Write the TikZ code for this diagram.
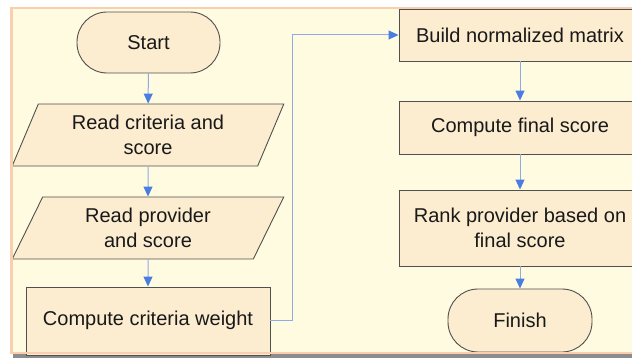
\documentclass[tikz,border=0pt]{standalone}
\usepackage{fontspec}
\setmainfont{Liberation Sans}
\usetikzlibrary{shapes.geometric,arrows.meta}
\definecolor{panel}{HTML}{FFFBE1}
\definecolor{panelborder}{HTML}{F9CFB0}
\definecolor{nodefill}{HTML}{FCECD0}
\definecolor{nodeline}{HTML}{505050}
\definecolor{lineblue}{HTML}{8FAAE6}
\definecolor{tipblue}{HTML}{4A7DE2}
\definecolor{shadowgray}{HTML}{8C8C8C}
\begin{document}
\begin{tikzpicture}[x=1pt,y=-1pt,
  every node/.style={font=\fontsize{20}{25.5}\selectfont, align=center, inner sep=0pt, text=black!90},
  box/.style={draw=nodeline, fill=nodefill, line width=0.9pt},
  rectbox/.style={box, rectangle},
  stadium/.style={box, rectangle, rounded corners=30pt},
  para/.style={box, trapezium, trapezium left angle=65.7, trapezium right angle=114.3,
    trapezium stretches=true, minimum width=272pt, minimum height=62pt},
  flow/.style={draw=lineblue, line width=1pt,
    -{Triangle[width=9pt,length=10pt,fill=tipblue,color=tipblue]}}]
\useasboundingbox (0,0) rectangle (632,358);
\clip (0,0) rectangle (632,358);
\fill[white] (0,0) rectangle (632,358);
\fill[shadowgray] (13,353) rectangle (645,358);
\fill[panel] (10,7) rectangle (645,354);

\node[stadium, minimum width=143pt, minimum height=61pt] (start) at (148.5,42.5) {Start};
\node[para] (rc) at (148,135) {Read criteria and\\score};
\node[para] (rp) at (148,228) {Read provider\\and score};
\node[rectbox, minimum width=244pt, minimum height=68pt] (cw) at (148,321) {};
\node at (148,320) {Compute criteria weight};

\node[rectbox, minimum width=242pt, minimum height=52pt] (bn) at (520,35) {Build normalized matrix};
\node[rectbox, minimum width=242pt, minimum height=53pt] (cf) at (520,127.5) {Compute final score};
\node[rectbox, minimum width=242pt, minimum height=76pt] (rk) at (520,228) {Rank provider based on\\final score};
\node[stadium, minimum width=144pt, minimum height=63pt] (fin) at (520,320.5) {Finish};

\coordinate (bend) at (292,35);
\draw[flow] (start) -- (rc);
\draw[flow] (rc) -- (rp);
\draw[flow] (rp) -- (cw.north);
\draw[flow] (cw.east |- 0,320) -| (bend) -- (bn.west);
\draw[flow] (bn) -- (cf);
\draw[flow] (cf) -- (rk);
\draw[flow] (rk) -- (fin);

\draw[panelborder, line width=2.5pt] (645,8) -- (11.25,8) -- (11.25,353) -- (645,353);
\end{tikzpicture}
\end{document}
